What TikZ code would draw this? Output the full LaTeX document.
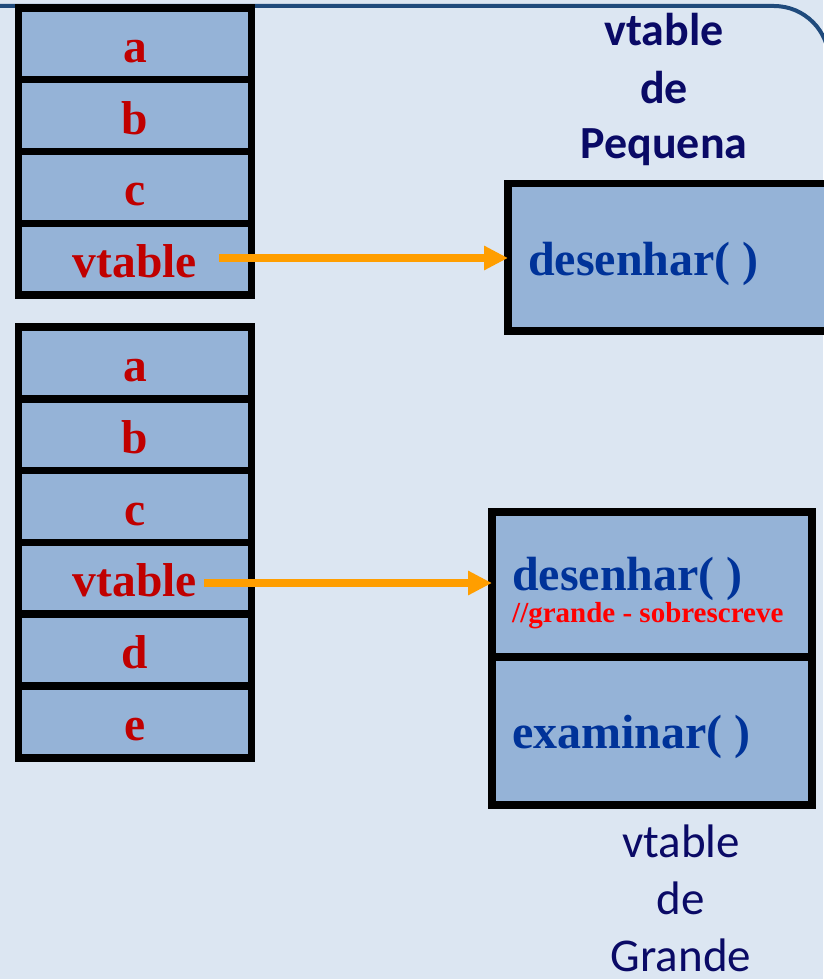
\documentclass[tikz,border=0pt]{standalone}
\usepackage{fontspec}
\setmainfont{Liberation Serif}
\newfontfamily\titlefont{Carlito}
\usetikzlibrary{arrows.meta}

\definecolor{bgblue}{HTML}{DCE6F2}
\definecolor{framecol}{HTML}{1F4A7C}
\definecolor{cellfill}{HTML}{95B3D7}
\definecolor{fieldred}{HTML}{C00000}
\definecolor{methodblue}{HTML}{003399}
\definecolor{notered}{HTML}{FF0000}
\definecolor{titlenavy}{HTML}{0A0A66}
\definecolor{ptrorange}{HTML}{FF9E00}

\begin{document}
\begin{tikzpicture}[x=1pt,y=-1pt,
  cell/.style={draw=black, line width=7.5pt, fill=cellfill, outer sep=0pt,
    inner sep=0pt, minimum width=233pt, minimum height=71.8pt,
    text height=37pt, text depth=0pt, text=fieldred,
    font=\fontsize{47.5}{47.5}\selectfont\bfseries},
  vbox/.style={draw=black, line width=7.5pt, fill=cellfill, outer sep=0pt, inner sep=0pt},
  method/.style={anchor=base west, inner sep=0pt, text=methodblue,
    font=\fontsize{48}{48}\selectfont\bfseries},
  note/.style={anchor=base west, inner sep=0pt, text=notered,
    font=\fontsize{29}{29}\selectfont\bfseries},
  titlebold/.style={anchor=base, inner sep=0pt, text=titlenavy,
    font=\titlefont\fontsize{46}{46}\selectfont\bfseries},
  titleplain/.style={anchor=base, inner sep=0pt, text=titlenavy,
    font=\titlefont\fontsize{47}{47}\selectfont},
  ptr/.style={draw=ptrorange, line width=7.5pt,
    -{Triangle[length=24pt,width=23pt]}}
]
\useasboundingbox (0,0) rectangle (823,979);

% slide background and its rounded frame
\fill[bgblue] (0,0) rectangle (823,979);
\draw[framecol, line width=4pt, rounded corners=55pt] (-40,6) -- (829,6) -- (829,1040);

% object of class Pequena
\node[cell] (s1a) at (135,43.9)  {a};
\node[cell] (s1b) at (135,115.6) {b};
\node[cell] (s1c) at (135,187.4) {c};
\node[cell] (s1v) at (135,259.2) {vtable};

% object of class Grande
\node[cell] (s2a) at (135,362.9) {a};
\node[cell] (s2b) at (135,434.7) {b};
\node[cell] (s2c) at (135,506.5) {c};
\node[cell] (s2v) at (135,578.3) {vtable};
\node[cell] (s2d) at (135,650.1) {d};
\node[cell] (s2e) at (135,721.9) {e};

% vtable of Pequena
\node[vbox, minimum width=332pt, minimum height=147.5pt] (pq) at (674,257.25) {};
\node[method] (pqm) at (528,275) {desenhar( )};
\node[titlebold] (pt1) at (664,46)  {vtable};
\node[titlebold] (pt2) at (664,103) {de};
\node[titlebold] (pt3) at (664,158) {Pequena};

% vtable of Grande
\node[vbox, minimum width=320pt, minimum height=145pt] (gu) at (652,584.5) {};
\node[vbox, minimum width=320pt, minimum height=148pt] (gl) at (652,731) {};
\node[method] (gm1) at (512,590) {desenhar( )};
\node[note]   (gn)  at (512,622) {//grande - sobrescreve};
\node[method] (gm2) at (512,748) {examinar( )};
\node[titleplain] (gt1) at (681,857) {vtable};
\node[titleplain] (gt2) at (681,914) {de};
\node[titleplain] (gt3) at (681,971) {Grande};

% vtable pointers
\coordinate (p1) at (219,258);
\coordinate (p2) at (204,583);
\draw[ptr] (p1) -- (p1 -| pq.west);
\draw[ptr] (p2) -- (p2 -| gu.west);
\end{tikzpicture}
\end{document}
